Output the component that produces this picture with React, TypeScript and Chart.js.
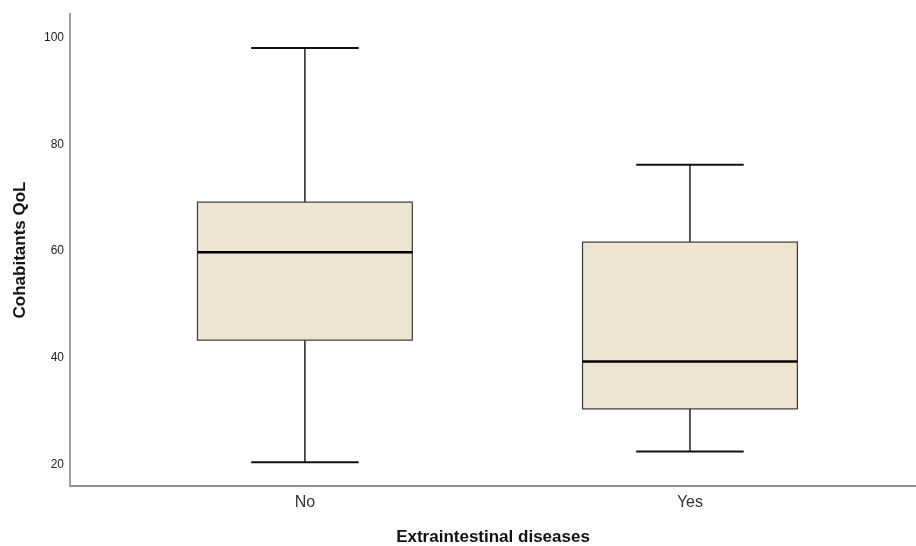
import React, { useEffect, useRef } from "react";
import { Chart, registerables } from "chart.js";

Chart.register(...registerables);

const categories = ["No", "Yes"];
const mins = [20.4, 22.4];
const q1s = [43.3, 30.4];
const medians = [59.8, 39.3];
const q3s = [69.2, 61.7];
const maxs = [98.1, 76.2];
const yTicks = [20, 40, 60, 80, 100];

const BOX_W = 0.558;
const CAP_W = 0.279;

const boxPlugin = {
  id: "boxDraw",
  afterDatasetsDraw(chart: any) {
    const { ctx, scales } = chart;
    const xs = scales.x;
    const ys = scales.y;
    ctx.save();
    categories.forEach((_, i) => {
      const xv = i + 1;
      const cx = xs.getPixelForValue(xv);
      const xl = xs.getPixelForValue(xv - BOX_W / 2);
      const xr = xs.getPixelForValue(xv + BOX_W / 2);
      const cl = xs.getPixelForValue(xv - CAP_W / 2);
      const cr = xs.getPixelForValue(xv + CAP_W / 2);
      const yMin = ys.getPixelForValue(mins[i]);
      const yQ1 = ys.getPixelForValue(q1s[i]);
      const yMed = ys.getPixelForValue(medians[i]);
      const yQ3 = ys.getPixelForValue(q3s[i]);
      const yMax = ys.getPixelForValue(maxs[i]);

      // whiskers
      ctx.strokeStyle = "#222";
      ctx.lineWidth = 1.5;
      ctx.beginPath();
      ctx.moveTo(cx, yQ3);
      ctx.lineTo(cx, yMax);
      ctx.moveTo(cx, yQ1);
      ctx.lineTo(cx, yMin);
      ctx.stroke();
      // caps
      ctx.strokeStyle = "#111";
      ctx.lineWidth = 2;
      ctx.beginPath();
      ctx.moveTo(cl, yMax);
      ctx.lineTo(cr, yMax);
      ctx.moveTo(cl, yMin);
      ctx.lineTo(cr, yMin);
      ctx.stroke();
      // box
      ctx.fillStyle = "#ede5d0";
      ctx.fillRect(xl, yQ3, xr - xl, yQ1 - yQ3);
      ctx.strokeStyle = "#3a3a3a";
      ctx.lineWidth = 1.2;
      ctx.strokeRect(xl, yQ3, xr - xl, yQ1 - yQ3);
      // median
      ctx.strokeStyle = "#000";
      ctx.lineWidth = 2.5;
      ctx.beginPath();
      ctx.moveTo(xl, yMed);
      ctx.lineTo(xr, yMed);
      ctx.stroke();
    });
    ctx.restore();
  },
};

const FONT = "'Liberation Sans', Arial, Helvetica, sans-serif";

export default function App() {
  const ref = useRef<HTMLCanvasElement>(null);
  useEffect(() => {
    if (!ref.current) return;
    const chart = new Chart(ref.current, {
      type: "scatter",
      data: {
        datasets: [
          {
            data: categories.map((_, i) => ({ x: i + 1, y: medians[i] })),
            pointRadius: 0,
            showLine: false,
          },
        ],
      },
      plugins: [boxPlugin],
      options: {
        responsive: false,
        animation: false,
        layout: { padding: { top: 14, right: 0, left: 0, bottom: 0 } },
        plugins: {
          legend: { display: false },
          tooltip: { enabled: false },
        },
        scales: {
          x: {
            type: "linear",
            min: 0.39,
            max: 2.587,
            afterBuildTicks: (s: any) => {
              s.ticks = categories.map((_, i) => ({ value: i + 1 }));
            },
            afterFit: (s: any) => {
              s.height = 60;
            },
            grid: { display: false, drawTicks: false, tickLength: 0 },
            border: { display: true, color: "#8f8f8f", width: 2 },
            ticks: {
              padding: 7,
              color: "#333",
              font: { family: FONT, size: 16 },
              callback: (v: any) => categories[Math.round(Number(v)) - 1] ?? "",
            },
            title: {
              display: true,
              text: "Extraintestinal diseases",
              color: "#111",
              font: { family: FONT, size: 17, weight: "bold", lineHeight: 1 },
              padding: { top: 0, bottom: 0 },
            },
          },
          y: {
            type: "linear",
            min: 15.93,
            max: 104.5,
            afterBuildTicks: (s: any) => {
              s.ticks = yTicks.map((v) => ({ value: v }));
            },
            afterFit: (s: any) => {
              s.width = 70;
            },
            grid: { display: false, drawTicks: false, tickLength: 0 },
            border: { display: true, color: "#a0a0a0", width: 2 },
            ticks: {
              padding: 6,
              color: "#222",
              font: { family: FONT, size: 12 },
            },
            title: {
              display: true,
              text: "Cohabitants QoL",
              color: "#111",
              font: { family: FONT, size: 17, weight: "bold", lineHeight: 1.2 },
              padding: { top: 10, bottom: 0 },
            },
          },
        },
      },
    });
    return () => chart.destroy();
  }, []);
  return (
    <div style={{ position: "absolute", left: 0, top: 0, width: 916, height: 546, background: "#fff" }}>
      <canvas ref={ref} width={916} height={546} />
    </div>
  );
}
